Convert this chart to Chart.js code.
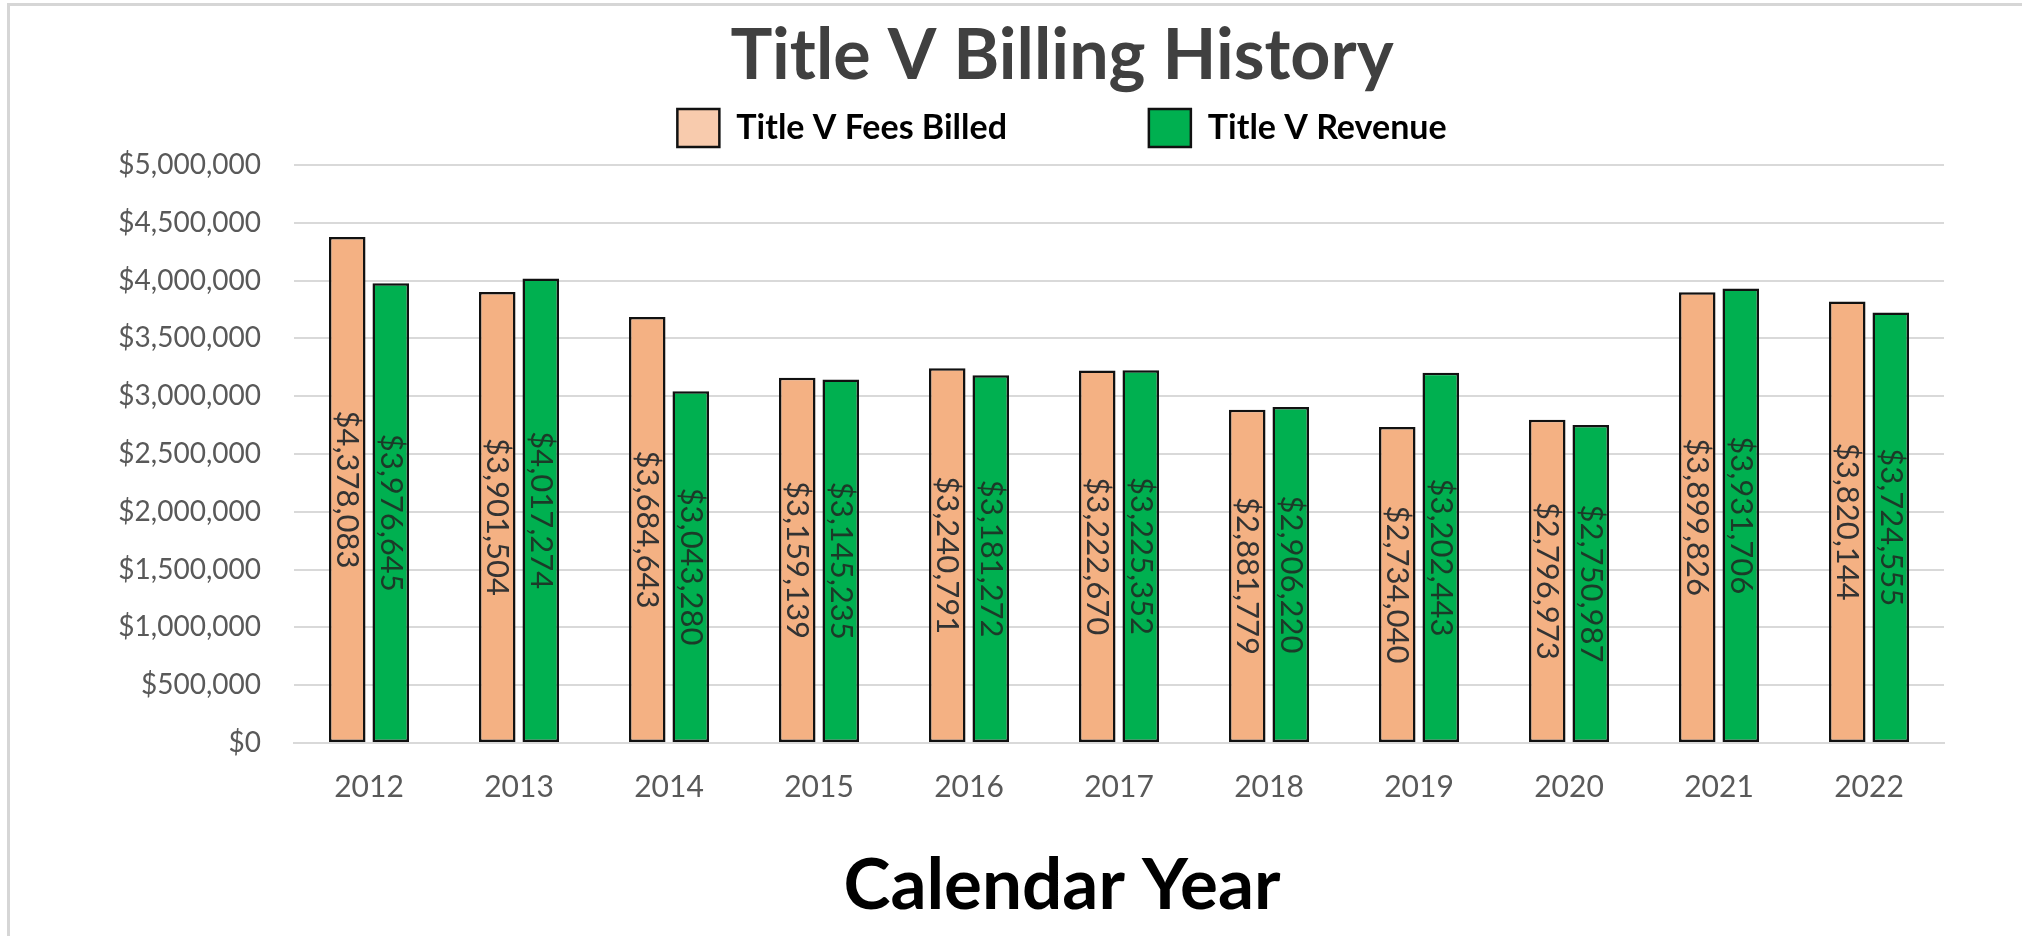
<!DOCTYPE html>
<html lang="en">
<head>
    <meta charset="UTF-8">
    <title>Title V Billing History</title>
    <script src="https://cdn.jsdelivr.net/npm/chart.js"></script>
    <style>
        html, body { margin: 0; padding: 0; background: #fff; }
        #wrap { position: relative; width: 2022px; height: 936px; overflow: hidden; }
        #frame {
            position: absolute; left: 7px; top: 3px; width: 2100px; height: 1000px;
            border-left: 3px solid #d6d6d6; border-top: 3px solid #d6d6d6;
            pointer-events: none;
        }
        #billingChart { position: absolute; left: 0; top: 0; }
    </style>
</head>
<body>
    <div id="wrap">
        <canvas id="billingChart" width="2022" height="936"></canvas>
        <div id="frame"></div>
    </div>
    <script>
        const years = ["2012", "2013", "2014", "2015", "2016", "2017", "2018", "2019", "2020", "2021", "2022"];
        const feesBilled = [4378083, 3901504, 3684643, 3159139, 3240791, 3222670, 2881779, 2734040, 2796973, 3899826, 3820144];
        const revenue = [3976645, 4017274, 3043280, 3145235, 3181272, 3225352, 2906220, 3202443, 2750987, 3931706, 3724555];

        const seriesNames = ["Title V Fees Billed", "Title V Revenue"];
        const barColors = ["#F4B183", "#00B050"];
        const legendColors = ["#F8CBAD", "#00B050"];
        const labelColors = ["#333333", "#1b3a28"];

        function money(v) {
            return "$" + Number(v).toLocaleString("en-US");
        }

        // rotated value labels in the middle of each bar
        const barLabels = {
            id: "barLabels",
            afterDatasetsDraw(chart) {
                const ctx = chart.ctx;
                chart.data.datasets.forEach((ds, i) => {
                    const meta = chart.getDatasetMeta(i);
                    meta.data.forEach((bar, j) => {
                        const mid = (bar.y + bar.base) / 2;
                        ctx.save();
                        ctx.translate(bar.x, mid);
                        ctx.rotate(Math.PI / 2);
                        ctx.font = "31px Lato";
                        ctx.fillStyle = labelColors[i];
                        ctx.textAlign = "center";
                        ctx.textBaseline = "middle";
                        ctx.fillText(money(ds.data[j]), 0, 0);
                        ctx.restore();
                    });
                });
            }
        };

        // a little more room between legend and plot
        const legendGap = {
            id: "legendGap",
            beforeLayout(chart) {
                const lg = chart.legend;
                if (lg && !lg._gapDone) {
                    const fit = lg.fit;
                    lg.fit = function () { fit.call(this); this.height += 8; };
                    lg._gapDone = true;
                }
            }
        };

        function makeChart() {
            const m = document.createElement("canvas").getContext("2d");
            m.font = "bold 34px Lato";
            const nSpaces = Math.round(120 / m.measureText(" ").width);
            const pad = " ".repeat(nSpaces);

            Chart.defaults.font.family = "Lato";

            new Chart(document.getElementById("billingChart"), {
                type: "bar",
                data: {
                    labels: years,
                    datasets: [
                        { label: seriesNames[0], data: feesBilled, backgroundColor: barColors[0] },
                        { label: seriesNames[1], data: revenue, backgroundColor: barColors[1] }
                    ]
                },
                options: {
                    responsive: false,
                    animation: false,
                    layout: { padding: { left: 180, right: 78, top: 10, bottom: 0 } },
                    datasets: {
                        bar: {
                            borderColor: "#111",
                            borderWidth: 2.5,
                            borderSkipped: false,
                            categoryPercentage: 0.58,
                            barPercentage: 0.84
                        }
                    },
                    plugins: {
                        tooltip: { enabled: false },
                        title: {
                            display: true,
                            text: "Title V Billing History",
                            color: "#404040",
                            font: { size: 70, weight: "bold", lineHeight: 1 },
                            padding: { top: 11, bottom: 0 }
                        },
                        legend: {
                            display: true,
                            position: "top",
                            labels: {
                                boxWidth: 42,
                                boxHeight: 38,
                                padding: 18,
                                color: "#000",
                                font: { size: 34, weight: "bold" },
                                generateLabels: (chart) => chart.data.datasets.map((ds, i) => ({
                                    text: i === 0 ? seriesNames[i] + pad : seriesNames[i],
                                    fillStyle: legendColors[i],
                                    strokeStyle: "#111",
                                    lineWidth: 2.5,
                                    fontColor: "#000",
                                    hidden: false,
                                    datasetIndex: i
                                }))
                            }
                        },
                        subtitle: {
                            display: true,
                            position: "bottom",
                            text: "Calendar Year",
                            color: "#000",
                            font: { size: 71, weight: "bold", lineHeight: 1 },
                            padding: { top: 20, bottom: 14 }
                        }
                    },
                    scales: {
                        x: {
                            grid: { display: false, drawTicks: false },
                            border: { display: true, color: "#d9d9d9", width: 2 },
                            ticks: { color: "#595959", font: { size: 30 }, padding: 26 }
                        },
                        y: {
                            min: 0,
                            max: 5000000,
                            afterFit(scale) {
                                scale.width = 114;
                                // labels are wider than the box, so do not clip them
                                scale._computeLabelArea = () => undefined;
                            },
                            border: { display: false },
                            grid: { color: "#d9d9d9", lineWidth: 2, drawTicks: false },
                            ticks: {
                                stepSize: 500000,
                                color: "#595959",
                                font: { size: 28 },
                                padding: 33,
                                callback: (v) => money(v)
                            }
                        }
                    }
                },
                plugins: [barLabels, legendGap]
            });
        }

        Promise.all([
            document.fonts.load("bold 70px Lato"),
            document.fonts.load("28px Lato")
        ]).then(makeChart, makeChart);
    </script>
</body>
</html>
